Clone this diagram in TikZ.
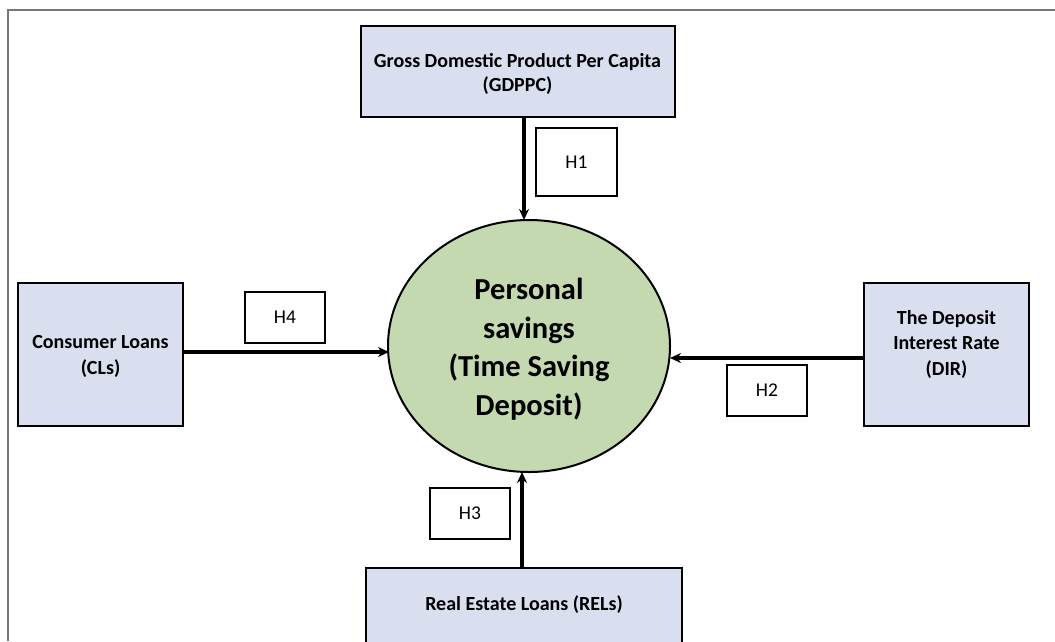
\documentclass[tikz,border=0pt]{standalone}
\usepackage{fontspec}
\setmainfont{Carlito}
\usetikzlibrary{arrows.meta,shapes.geometric}
\definecolor{boxblue}{HTML}{D9DFEF}
\definecolor{circgreen}{HTML}{C5D9B0}
\definecolor{framegray}{HTML}{777777}
\newcommand{\txtstack}[2]{\raisebox{#1}[\height][\depth]{\begin{tabular}{@{}c@{}}#2\end{tabular}}}
\tikzset{
  varbox/.style={draw=black, line width=2pt, fill=boxblue, align=center, font=\bfseries\fontsize{20}{25.5}\selectfont, inner sep=0pt},
  hbox/.style={draw=black, line width=1.6pt, fill=white, align=center, font=\fontsize{19.5}{22}\selectfont, inner sep=0pt},
  link/.style={line width=3.4pt, -{Stealth[length=11pt,width=10pt]}},
}
\begin{document}
\begin{tikzpicture}[x=1pt,y=-1pt]
\useasboundingbox (0,0) rectangle (1055,641);
\draw[framegray, line width=2pt] (8,641) -- (8,10) -- (1055,10);

\node[varbox, minimum width=314pt, minimum height=91pt, font=\bfseries\fontsize{20}{23.5}\selectfont] (gdp) at (517.5,71) {\txtstack{-4pt}{Gross Domestic Product Per Capita\\(GDPPC)}};
\node[varbox, minimum width=165pt, minimum height=143pt] (cl) at (100.5,354.5) {\txtstack{-2pt}{Consumer Loans\\(CLs)}};
\node[varbox, minimum width=165pt, minimum height=143pt] (dir) at (946.5,354.5) {\txtstack{10pt}{The Deposit\\Interest Rate\\(DIR)}};
\node[varbox, minimum width=316pt, minimum height=76pt, anchor=north] (rel) at (524,567) {};
\node[font=\bfseries\fontsize{20}{25}\selectfont] (reltext) at (524,605) {Real Estate Loans (RELs)};

\node[draw=black, line width=2pt, fill=circgreen, ellipse, minimum width=282pt, minimum height=252pt, inner sep=0pt, align=center, font=\bfseries\fontsize{30.5}{38.5}\selectfont] (ps) at (529,346) {\txtstack{-4pt}{Personal\\savings\\(Time Saving\\Deposit)}};

\node[hbox, minimum width=81pt, minimum height=68pt] (h1) at (576.5,162) {H1};
\node[hbox, minimum width=80pt, minimum height=51pt] (h4) at (285,317.5) {H4};
\node[hbox, minimum width=80pt, minimum height=51pt] (h2) at (767,390.5) {H2};
\node[hbox, minimum width=80pt, minimum height=51pt] (h3) at (470,513.5) {H3};

\coordinate (gdpout) at (524,116.5);
\coordinate (psT) at (524,220);
\coordinate (clout) at (183,352);
\coordinate (psL) at (389,352);
\coordinate (dirout) at (864,358);
\coordinate (psR) at (670,358);
\coordinate (relout) at (522,567);
\coordinate (psB) at (522,472);
\draw[link] (gdpout) -- (psT);
\draw[link] (clout) -- (psL);
\draw[link] (dirout) -- (psR);
\draw[link] (relout) -- (psB);
\end{tikzpicture}
\end{document}
